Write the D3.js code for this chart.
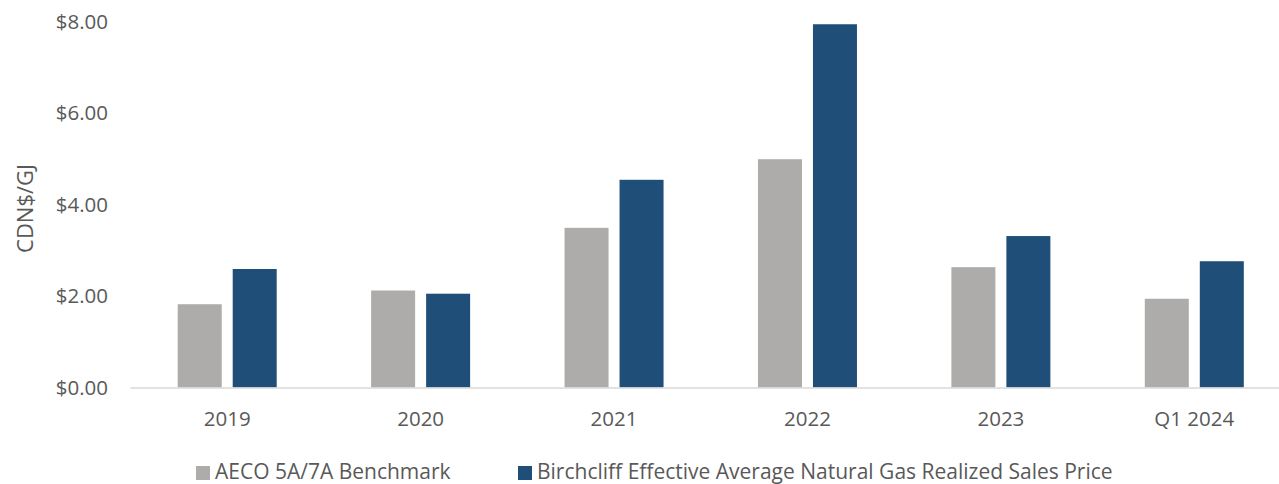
<!DOCTYPE html>
<html>
<head>
<meta charset="utf-8">
<script src="https://cdn.jsdelivr.net/npm/d3@7/dist/d3.min.js"></script>
<style>
  html, body { margin: 0; padding: 0; background: #fff; }
  svg { display: block; }
  text { font-family: "Open Sans", "Liberation Sans", sans-serif; fill: #595959; }
</style>
</head>
<body>
<svg id="chart" width="1279" height="484"></svg>
<script>
const categories = ["2019", "2020", "2021", "2022", "2023", "Q1 2024"];
const seriesNames = ["AECO 5A/7A Benchmark", "Birchcliff Effective Average Natural Gas Realized Sales Price"];
const aeco = [1.82, 2.12, 3.49, 4.99, 2.63, 1.94];
const birchcliff = [2.59, 2.05, 4.54, 7.94, 3.31, 2.76];
const seriesColors = ["#AEABAB", "#1F4E79"];
const yTicks = [0, 2, 4, 6, 8];
const yTitle = "CDN$/GJ";

const svg = d3.select("#chart");
const W = 1279, H = 484;
const mLeft = 130.5, mRight = 1291, mTop = 21.5, mBottom = 387.5;

const x0 = d3.scaleBand().domain(categories).range([mLeft, mRight]).padding(0);
const groupW = 99;
const x1 = d3.scaleBand().domain(seriesNames).range([0, groupW]).paddingInner(0.2).paddingOuter(0);
const y = d3.scaleLinear().domain([0, 8]).range([mBottom, mTop]);

const data = categories.map((c, i) => ({ cat: c, values: [aeco[i], birchcliff[i]] }));

// bars
const groups = svg.append("g").selectAll("g").data(data).join("g")
  .attr("transform", d => `translate(${x0(d.cat) + (x0.bandwidth() - groupW) / 2},0)`);
groups.selectAll("rect").data(d => d.values.map((v, j) => ({ name: seriesNames[j], v, j })))
  .join("rect")
  .attr("x", d => x1(d.name))
  .attr("y", d => y(d.v))
  .attr("width", x1.bandwidth())
  .attr("height", d => y(0) - y(d.v))
  .attr("fill", d => seriesColors[d.j]);

// x axis line
svg.append("line")
  .attr("x1", mLeft).attr("x2", W)
  .attr("y1", y(0) + 0.5).attr("y2", y(0) + 0.5)
  .attr("stroke", "#D9D9D9").attr("stroke-width", 1.5);

// x labels
const xAxis = d3.axisBottom(x0).tickSize(0).tickPadding(0);
const gx = svg.append("g").attr("transform", `translate(0,${mBottom})`).call(xAxis);
gx.select(".domain").remove();
gx.selectAll("text")
  .attr("y", 31).attr("dy", "0.35em")
  .style("font-size", "20.5px").attr("fill", "#595959");

// y axis labels
const yAxis = d3.axisLeft(y).tickValues(yTicks).tickSize(0).tickPadding(0)
  .tickFormat(d => "$" + d3.format(".2f")(d));
const gy = svg.append("g").attr("transform", `translate(108,0)`).call(yAxis);
gy.select(".domain").remove();
gy.selectAll("text").style("font-size", "20.5px").attr("fill", "#595959").attr("x", 0);

// y title
svg.append("text")
  .attr("transform", `translate(25,${(mTop + mBottom) / 2 + 4}) rotate(-90)`)
  .attr("text-anchor", "middle").attr("dy", "0.35em")
  .style("font-size", "22px")
  .text(yTitle);

// legend
const legendX = [196, 518];
const lg = svg.append("g").selectAll("g").data(seriesNames).join("g")
  .attr("transform", (d, i) => `translate(${legendX[i]},472)`);
lg.append("rect").attr("x", 0).attr("y", -6).attr("width", 14).attr("height", 14)
  .attr("fill", (d, i) => seriesColors[i]);
lg.append("text").attr("x", 19).attr("dy", "0.35em")
  .style("font-size", "21px").text(d => d);
</script>
</body>
</html>
